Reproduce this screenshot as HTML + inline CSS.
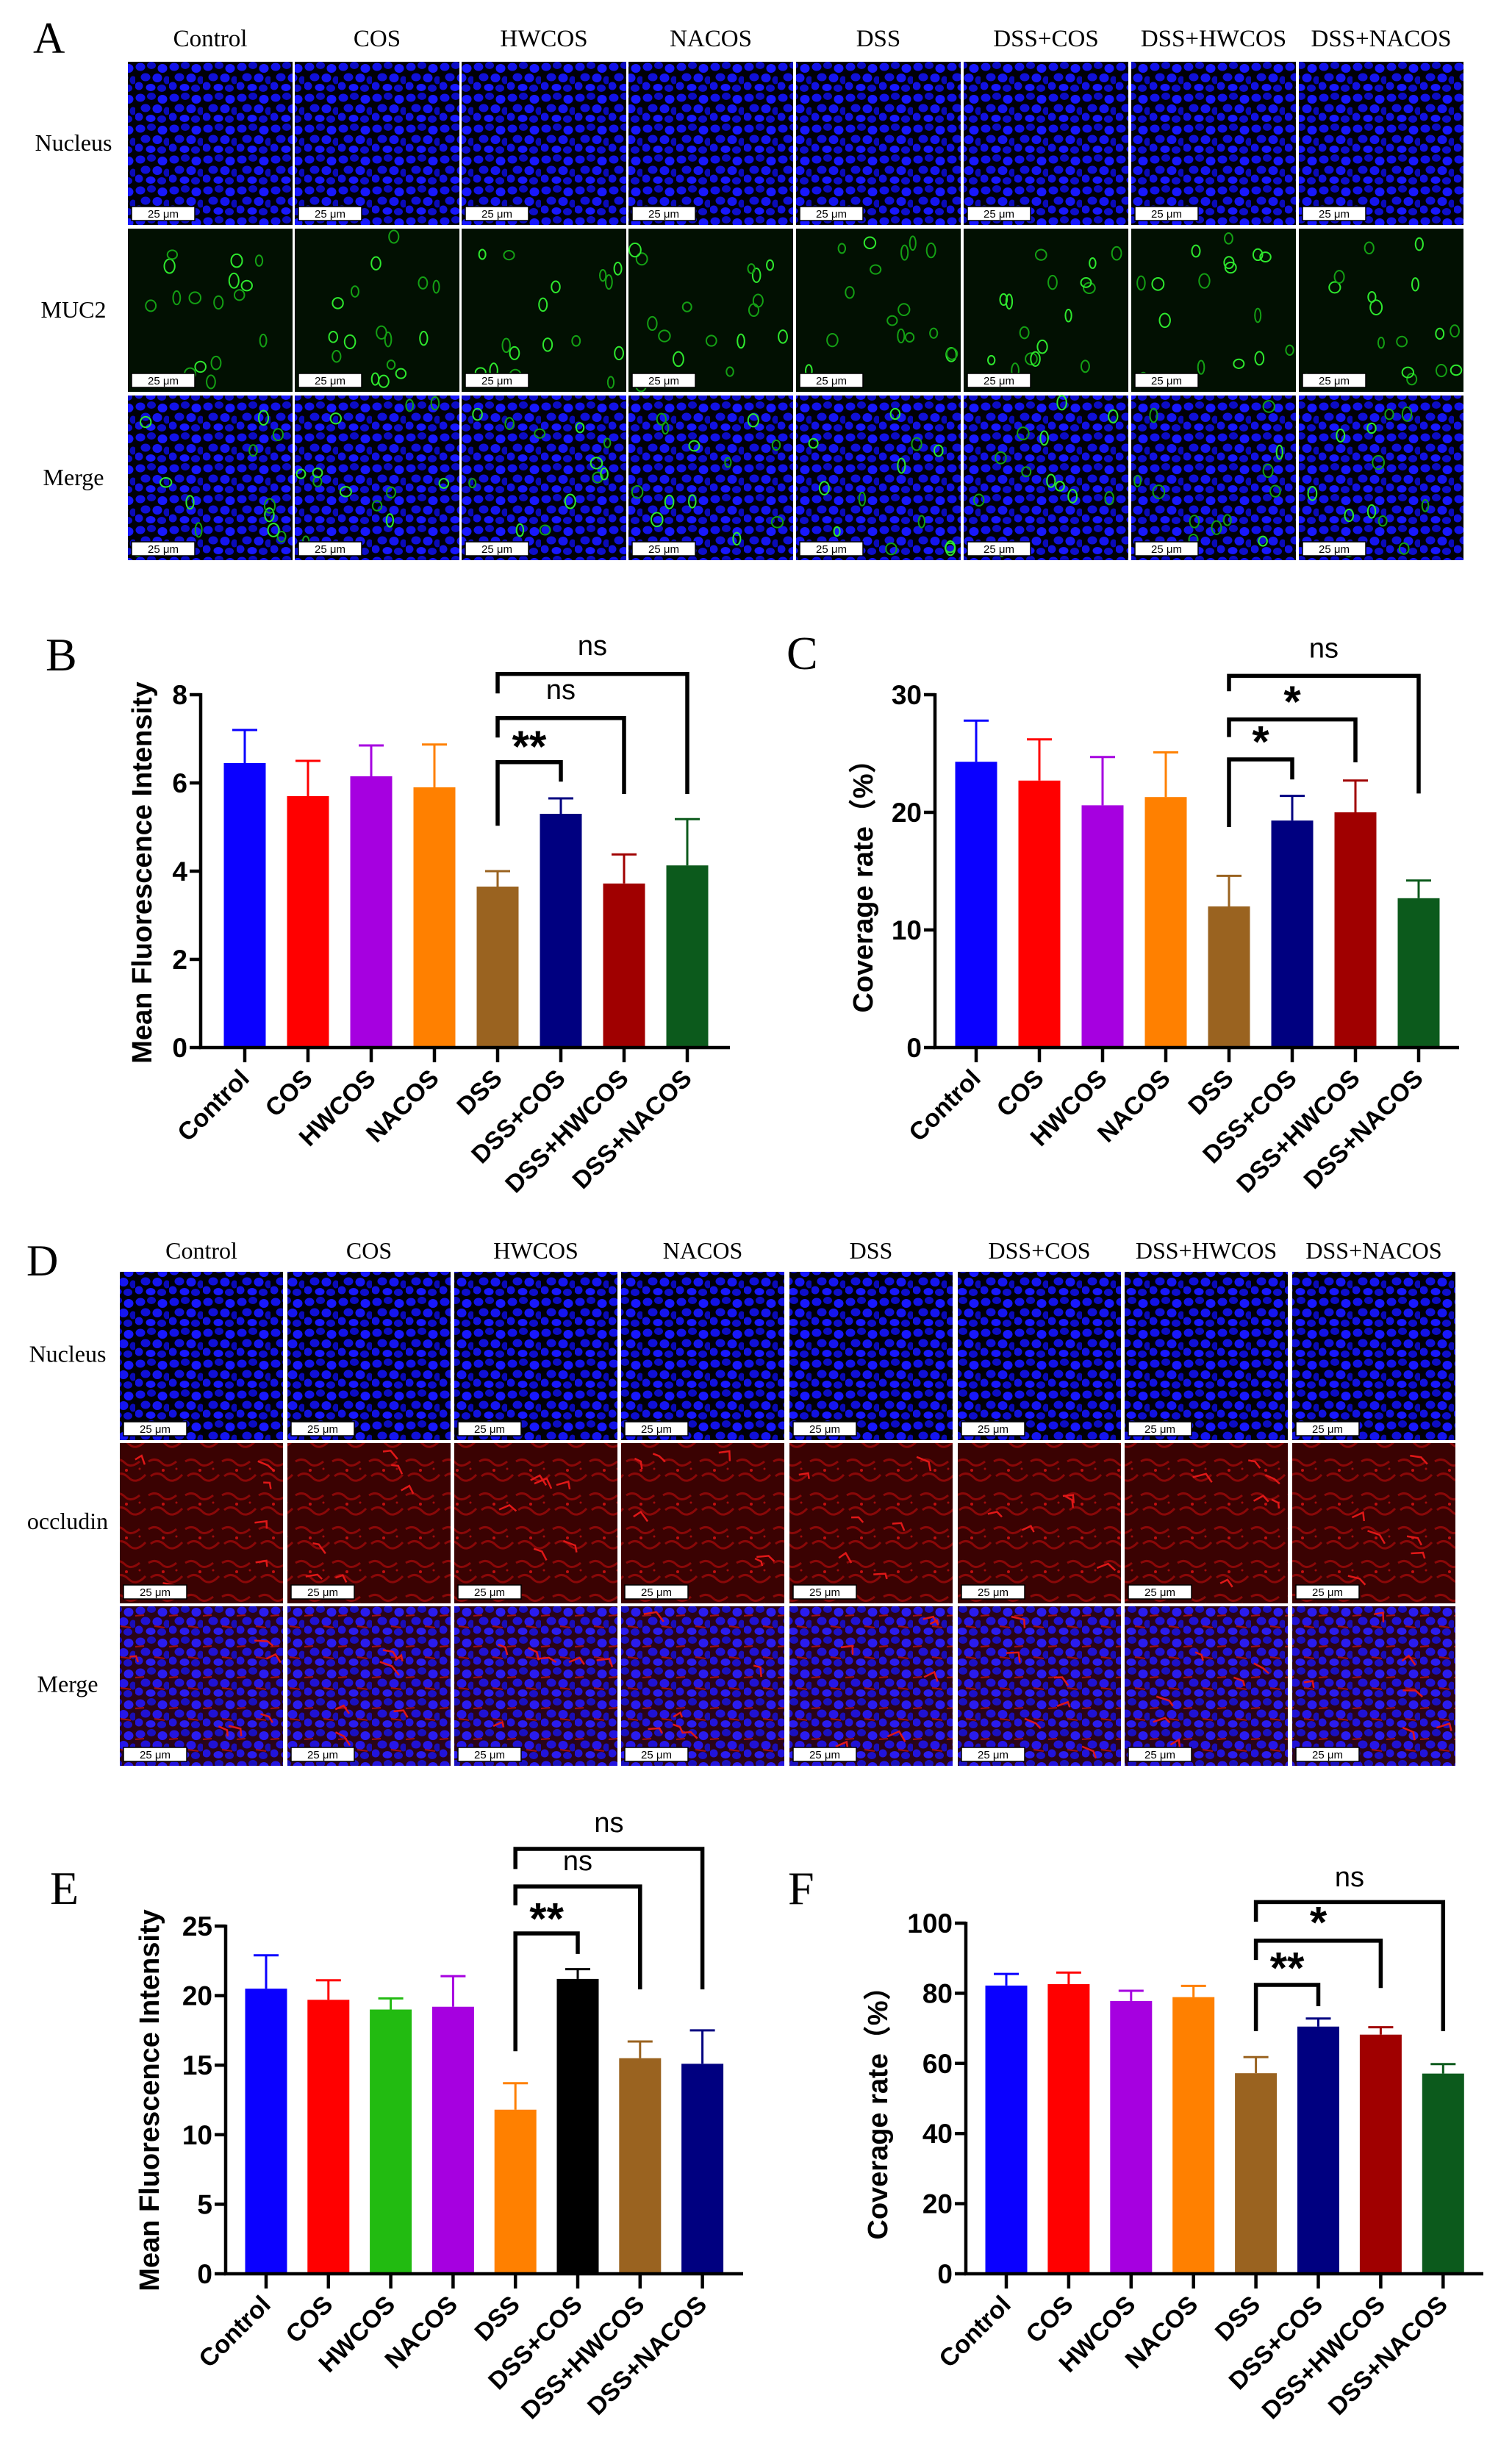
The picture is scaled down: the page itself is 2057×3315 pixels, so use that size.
<!DOCTYPE html>
<html><head><meta charset="utf-8">
<style>
html,body{margin:0;padding:0;background:#fff;}
#fig{position:absolute;left:0;top:0;}
</style></head>
<body>
<svg id="fig" width="2057" height="3315" viewBox="0 0 2057 3315" xmlns="http://www.w3.org/2000/svg">
<defs>
<pattern id="pBlue" width="46" height="42" patternUnits="userSpaceOnUse">
<rect width="46" height="42" fill="#000008"/>
<ellipse cx="7" cy="7" rx="6.5" ry="5.5" fill="#1212e8"/><ellipse cx="22" cy="5" rx="6" ry="5" fill="#0c0cc4"/><ellipse cx="37" cy="9" rx="6.5" ry="6" fill="#1818ff"/>
<ellipse cx="14" cy="21" rx="6.5" ry="5.5" fill="#1010d8"/><ellipse cx="30" cy="22" rx="6.5" ry="6" fill="#1515f0"/><ellipse cx="43" cy="25" rx="4.5" ry="5.5" fill="#0a0ab8"/>
<ellipse cx="5" cy="33" rx="5.5" ry="5.5" fill="#1212e0"/><ellipse cx="21" cy="35" rx="6.5" ry="5" fill="#1818ff"/><ellipse cx="36" cy="36" rx="6" ry="5" fill="#0e0ecc"/>
</pattern>
<pattern id="pRed" width="50" height="46" patternUnits="userSpaceOnUse">
<rect width="50" height="46" fill="#3a0202"/>
<path d="M2 10 Q12 4 20 12 T40 10 M5 30 Q15 22 25 32 T48 28" stroke="#8a0808" stroke-width="3" fill="none"/>
<circle cx="22" cy="22" r="2" fill="#c01010"/><circle cx="40" cy="20" r="1.5" fill="#a00c0c"/>
</pattern>
<pattern id="pMergeD" width="46" height="42" patternUnits="userSpaceOnUse">
<rect width="46" height="42" fill="#2a0418"/>
<ellipse cx="7" cy="7" rx="6.5" ry="5.5" fill="#2414e0"/><ellipse cx="22" cy="5" rx="6" ry="5" fill="#1a10c0"/><ellipse cx="37" cy="9" rx="6.5" ry="6" fill="#2a1cf0"/>
<ellipse cx="14" cy="21" rx="6.5" ry="5.5" fill="#2012d4"/><ellipse cx="30" cy="22" rx="6.5" ry="6" fill="#2616e8"/><ellipse cx="43" cy="25" rx="4.5" ry="5.5" fill="#1a0eb8"/>
<ellipse cx="5" cy="33" rx="5.5" ry="5.5" fill="#2214dc"/><ellipse cx="21" cy="35" rx="6.5" ry="5" fill="#2a1cf0"/><ellipse cx="36" cy="36" rx="6" ry="5" fill="#1c10c8"/>
<path d="M0 14 L12 13 M26 28 L40 30" stroke="#a01010" stroke-width="2"/>
</pattern>
</defs>
<g id="micro"></g>
<g id="charts"></g>
</svg>
<script>
// ---------- Chart data ----------
const categories = ["Control","COS","HWCOS","NACOS","DSS","DSS+COS","DSS+HWCOS","DSS+NACOS"];
const bValues = [6.45,5.7,6.15,5.9,3.65,5.3,3.72,4.13];
const bErrors = [0.75,0.8,0.7,0.97,0.35,0.35,0.66,1.05];
const bTicks = [0,2,4,6,8];
const cValues = [24.3,22.7,20.6,21.3,12.0,19.3,20.0,12.7];
const cErrors = [3.5,3.5,4.1,3.8,2.6,2.1,2.7,1.5];
const cTicks = [0,10,20,30];
const eValues = [20.5,19.7,19.0,19.2,11.8,21.2,15.5,15.1];
const eErrors = [2.4,1.4,0.8,2.2,1.9,0.7,1.2,2.4];
const eTicks = [0,5,10,15,20,25];
const fValues = [82.2,82.6,77.8,78.9,57.2,70.5,68.2,57.1];
const fErrors = [3.3,3.3,2.9,3.2,4.6,2.3,2.1,2.7];
const fTicks = [0,20,40,60,80,100];
// significance brackets: [fromIndex,toIndex,barY,leftEnd,rightEnd,label,labelY]
const bBrackets = [[4,7,8.47,8.03,5.75,"ns",9.1],[4,6,7.47,7.03,5.75,"ns",8.1],[4,5,6.47,5.03,6.03,"**",6.85]];
const cBrackets = [[4,7,31.6,30.3,21.6,"ns",33.9],[4,6,27.9,26.4,24.25,"*",29.5],[4,5,24.5,18.75,22.8,"*",26.1]];
const eBrackets = [[4,7,30.55,29.1,20.45,"ns",32.4],[4,6,27.85,26.5,20.45,"ns",29.65],[4,5,24.47,16.0,23.0,"**",25.6]];
const fBrackets = [[4,7,106,100.4,69.2,"ns",113],[4,6,95,89.5,81.5,"*",100.5],[4,5,82.4,69.2,76.3,"**",87.5]];

const colorsA = ["#0a00ff","#ff0000","#a600e0","#ff8000","#9a6320","#000080","#a00000","#0c5a1c"];
const colorsE = ["#0a00ff","#ff0000","#22bb11","#a600e0","#ff8000","#000000","#9a6320","#000080"];

const NS = "http://www.w3.org/2000/svg";
function el(tag, attrs, parent){const e=document.createElementNS(NS,tag);for(const k in attrs)e.setAttribute(k,attrs[k]);if(parent)parent.appendChild(e);return e;}

const chartsG = document.getElementById('charts');

function drawChart(cfg){
  const g = el('g',{},chartsG);
  
  
  const max = cfg.ticks[cfg.ticks.length-1];
  const yS = v => cfg.y0 - (v/max)*(cfg.y0-cfg.yTop);
  const xS = i => cfg.first + i*cfg.step;
  const L = el('text',{x:cfg.letterX,y:cfg.letterY,'font-family':'Liberation Serif, serif','font-size':64,fill:'#000'},g);
  L.textContent = cfg.letter;
  
  
  cfg.values.forEach((v,i)=>{
    const c = cfg.colors[i];
    const cx = xS(i);
    const r = el('rect',{x:cx-28.5,y:yS(v),width:57,height:cfg.y0-yS(v),fill:c},g);
    
    
    const top = yS(v+cfg.errors[i]);
    const eb = el('path',{d:`M${cx} ${yS(v)} V${top} M${cx-17} ${top} H${cx+17}`,stroke:c,'stroke-width':3,fill:'none'},g);
    
    
  });
  const ax = el('path',{d:`M${cfg.x0} ${cfg.yTop-2} V${cfg.y0} H${cfg.xEnd}`,stroke:'#000','stroke-width':4.5,fill:'none'},g);
  
  
  cfg.ticks.forEach(t=>{
    el('line',{x1:cfg.x0-15,x2:cfg.x0,y1:yS(t),y2:yS(t),stroke:'#000','stroke-width':4.5},g);
    const tx = el('text',{x:cfg.x0-18,y:yS(t)+13,'text-anchor':'end','font-family':'Liberation Sans, sans-serif','font-weight':'bold','font-size':37,fill:'#000'},g);
    tx.textContent = t;
    
    
  });
  categories.forEach((c,i)=>{
    const cx = xS(i);
    el('line',{x1:cx,x2:cx,y1:cfg.y0,y2:cfg.y0+20,stroke:'#000','stroke-width':4.5},g);
    const tx = el('text',{x:cx+8,y:cfg.y0+44,'text-anchor':'end','font-family':'Liberation Sans, sans-serif','font-weight':'bold','font-size':34,fill:'#000',transform:`rotate(-45 ${cx+8} ${cfg.y0+44})`},g);
    tx.textContent = c;
    
    
  });
  const yt = el('text',{x:cfg.titleX,y:cfg.titleY,'text-anchor':'middle','font-family':'Liberation Sans, "Noto Sans CJK SC", sans-serif','font-weight':'bold','font-size':38,fill:'#000',transform:`rotate(-90 ${cfg.titleX} ${cfg.titleY})`},g);
  yt.textContent = cfg.title;
  
  
  cfg.brackets.forEach(b=>{
    const xa = xS(b[0]), xb = xS(b[1]);
    const p = el('path',{d:`M${xa} ${yS(b[3])} V${yS(b[2])} H${xb} V${yS(b[4])}`,stroke:'#000','stroke-width':5.5,fill:'none'},g);
    
    
    const star = b[5] !== 'ns';
    const tx = el('text',{x:(xa+xb)/2,y:yS(b[6]) + (star?22:12),'text-anchor':'middle','font-family':'Liberation Sans, sans-serif','font-weight':star?'bold':'normal','font-size':star?60:38,fill:'#000'},g);
    tx.textContent = b[5];
    
    
  });
}

drawChart({name:'chart-b-mucus-intensity',letter:'B',letterX:62,letterY:912,values:bValues,errors:bErrors,ticks:bTicks,colors:colorsA,brackets:bBrackets,
  x0:273,y0:1425,yTop:945,first:333,step:86,xEnd:993,title:'Mean Fluorescence Intensity',titleX:206,titleY:1187});
drawChart({name:'chart-c-mucus-coverage',letter:'C',letterX:1070,letterY:910,values:cValues,errors:cErrors,ticks:cTicks,colors:colorsA,brackets:cBrackets,
  x0:1272,y0:1425,yTop:945,first:1328,step:86,xEnd:1985,title:'Coverage rate（%）',titleX:1187,titleY:1196});
drawChart({name:'chart-e-occludin-intensity',letter:'E',letterX:68,letterY:2590,values:eValues,errors:eErrors,ticks:eTicks,colors:colorsE,brackets:eBrackets,
  x0:307,y0:3093,yTop:2620,first:362,step:84.8,xEnd:1011,title:'Mean Fluorescence Intensity',titleX:216,titleY:2857});
drawChart({name:'chart-f-occludin-coverage',letter:'F',letterX:1072,letterY:2590,values:fValues,errors:fErrors,ticks:fTicks,colors:colorsA,brackets:fBrackets,
  x0:1314,y0:3093,yTop:2616,first:1369,step:84.9,xEnd:2018,title:'Coverage rate（%）',titleX:1207,titleY:2865});

// ---------- Micrograph panels ----------
const micro = document.getElementById('micro');
let seed = 12345;
function rnd(){seed = (seed*1103515245+12345) & 0x7fffffff; return seed/0x7fffffff;}

function scaleBar(g,x,y,h){
  el('rect',{x:x+5,y:y+h-25,width:86,height:19,fill:'#fff',stroke:'#000','stroke-width':1.5},g);
  const t = el('text',{x:x+48,y:y+h-10,'text-anchor':'middle','font-family':'Liberation Sans, sans-serif','font-size':15,fill:'#000'},g);
  t.textContent = '25 μm';
}
function greenRings(g,x,y,w,h,n){
  for(let k=0;k<n;k++){
    const cx = x+8+rnd()*(w-16), cy = y+8+rnd()*(h-16);
    el('ellipse',{cx:cx,cy:cy,rx:4+rnd()*4,ry:6+rnd()*4,fill:'none',stroke:rnd()>0.5?'#2ee82e':'#14a014','stroke-width':2},g);
  }
}
function image(x,y,w,h,kind,name){
  const g = el('g',{},micro);
  
  
  let fill = 'url(#pBlue)';
  if(kind==='green') fill = '#021002';
  if(kind==='red') fill = 'url(#pRed)';
  if(kind==='mergeD') fill = 'url(#pMergeD)';
  el('rect',{x:x,y:y,width:w,height:h,fill:fill},g);
  if(kind==='green') greenRings(g,x,y,w,h,16);
  if(kind==='mergeA') greenRings(g,x,y,w,h,12);
  if(kind==='red'||kind==='mergeD'){
    for(let k=0;k<6;k++){
      const px=x+10+rnd()*(w-30), py=y+10+rnd()*(h-30);
      el('path',{d:`M${px} ${py} l${8+rnd()*10} ${rnd()*14-7} l${rnd()*10} ${6+rnd()*8}`,stroke:'#e01818','stroke-width':2.5,fill:'none'},g);
    }
  }
  scaleBar(g,x,y,h);
}
function label(x,y,txt,size,name,anchor){
  const t = el('text',{x:x,y:y,'text-anchor':anchor||'middle','font-family':'Liberation Serif, serif','font-size':size,fill:'#000'},micro);
  t.textContent = txt;
  
  
}

// Panel A
label(45,72,'A',60,'panel-label-a','start');
const aCols = [174,401,628,855,1083,1311,1539,1767];
const aW = 224;
const aRows = [[84,222],[311,222],[538,224]];
const aKinds = ['blue','green','mergeA'];
const aRowLabels = ['Nucleus','MUC2','Merge'];
categories.forEach((c,i)=>label(aCols[i]+aW/2,63,c,33,'column-header-a'));
aRows.forEach((r,ri)=>{
  label(100,r[0]+r[1]/2+10,aRowLabels[ri],32,'row-label-a');
  aCols.forEach((cx,ci)=>image(cx,r[0],aW,r[1],aKinds[ri],'micrograph-a-'+ri+'-'+ci));
});

// Panel D
label(36,1735,'D',60,'panel-label-d','start');
const dCols = [163,391,618,845,1074,1303,1530,1758];
const dW = 222;
const dRows = [[1730,229],[1963,218],[2185,217]];
const dKinds = ['blue','red','mergeD'];
const dRowLabels = ['Nucleus','occludin','Merge'];
categories.forEach((c,i)=>label(dCols[i]+dW/2,1712,c,32,'column-header-d'));
dRows.forEach((r,ri)=>{
  label(92,r[0]+r[1]/2+8,dRowLabels[ri],32,'row-label-d');
  dCols.forEach((cx,ci)=>image(cx,r[0],dW,r[1],dKinds[ri],'micrograph-d-'+ri+'-'+ci));
});
</script>
</body></html>
